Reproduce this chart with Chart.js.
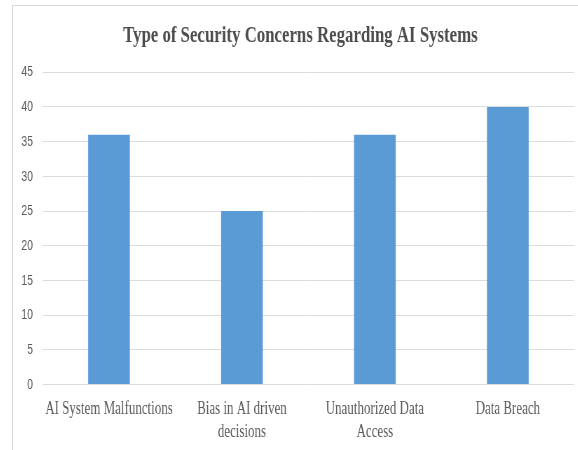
<!DOCTYPE html>
<html>
<head>
<meta charset="utf-8">
<script src="https://cdn.jsdelivr.net/npm/chart.js@4"></script>
<style>
  html, body { margin: 0; padding: 0; background: #fff; overflow: hidden; }
  #frame { position: absolute; left: 12px; top: 5px; width: 570px; height: 450px;
           border-left: 1px solid #d9d9d9; border-top: 1px solid #d9d9d9; }
  /* the source picture is squeezed sideways, so draw wide and scale down in x */
  #wrap { position: absolute; left: 18px; top: 0; width: 806px; height: 450px;
          transform-origin: 0 0; transform: scaleX(0.70061); }
</style>
</head>
<body>
<div id="frame"></div>
<div id="wrap"><canvas id="chart"></canvas></div>
<script>
const categories = [
  "AI System Malfunctions",
  ["Bias in AI driven", "decisions"],
  ["Unauthorized Data", "Access"],
  "Data Breach"
];
const values = [36, 25, 36, 40];
const yTicks = [0, 5, 10, 15, 20, 25, 30, 35, 40, 45];

const serif = "'Liberation Serif', 'Times New Roman', serif";

new Chart(document.getElementById("chart"), {
  type: "bar",
  data: {
    labels: categories,
    datasets: [{
      label: "Concerns",
      data: values,
      backgroundColor: "#5b9bd5",
      barPercentage: 0.3136,
      categoryPercentage: 1
    }]
  },
  options: {
    responsive: true,
    maintainAspectRatio: false,
    animation: false,
    layout: { padding: 0 },
    plugins: {
      legend: { display: false },
      tooltip: { enabled: false },
      title: {
        display: true,
        text: "Type of Security Concerns Regarding AI Systems",
        color: "#4d4d4d",
        font: { family: serif, size: 24, weight: "bold", lineHeight: 1.2 },
        padding: { top: 21, bottom: 22.5 }
      }
    },
    scales: {
      x: {
        grid: { display: false },
        border: { display: false },
        ticks: {
          color: "#595959",
          maxRotation: 0,
          autoSkip: false,
          padding: 6,
          font: { family: serif, size: 18.5, lineHeight: 1.2 }
        },
        afterFit: s => { s.height = 65.5; }
      },
      y: {
        min: 0,
        max: 45,
        afterBuildTicks: s => { s.ticks = yTicks.map(v => ({ value: v })); },
        grid: { color: "#dcdcdc", drawTicks: false },
        border: { display: false },
        ticks: {
          color: "#595959",
          padding: 13.6,
          font: { family: "'Liberation Sans', Arial, sans-serif", size: 15 }
        },
        afterFit: s => { s.width = 35; }
      },
      // empty strip on the right so the title sits a bit right of the plot centre
      pad: {
        type: "linear",
        position: "right",
        grid: { display: false },
        border: { display: false },
        ticks: { display: false },
        afterFit: s => { s.width = 12; }
      }
    }
  }
});
</script>
</body>
</html>
